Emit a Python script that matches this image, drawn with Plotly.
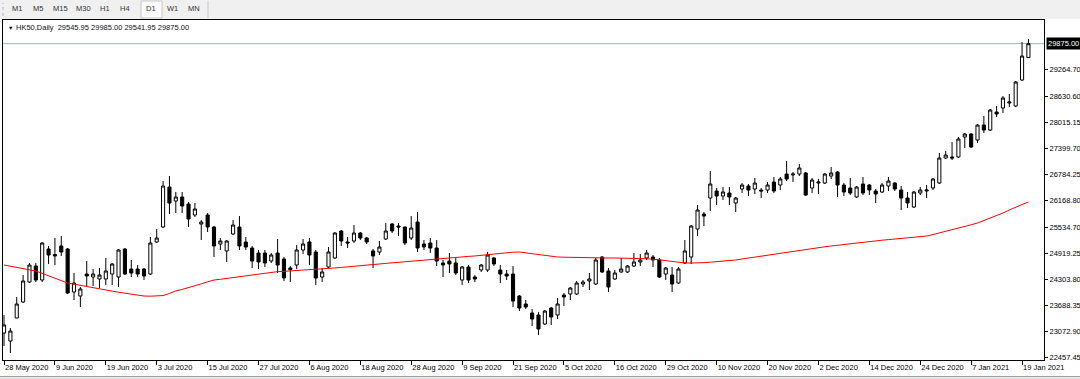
import plotly.graph_objects as go

# ---------------- data ----------------
tick_dates = ["28 May 2020", "9 Jun 2020", "19 Jun 2020", "3 Jul 2020", "15 Jul 2020",
              "27 Jul 2020", "6 Aug 2020", "18 Aug 2020", "28 Aug 2020", "9 Sep 2020",
              "21 Sep 2020", "5 Oct 2020", "16 Oct 2020", "29 Oct 2020", "10 Nov 2020",
              "20 Nov 2020", "2 Dec 2020", "14 Dec 2020", "24 Dec 2020", "7 Jan 2021",
              "19 Jan 2021"]
tick_step = 8

price_ticks = [29264.70, 28630.60, 28015.15, 27399.70, 26784.25, 26168.80,
               25534.70, 24919.25, 24303.80, 23688.35, 23072.90, 22457.45]

opens = [23040, 22851, 23395, 23773, 24245, 24623, 24292, 25025, 24895, 25096,
         25025, 24009, 23914, 24434, 24363, 24316, 24316, 24434, 24363, 25025,
         24552, 24552, 24552, 24434, 25190, 25544, 26489, 26158, 26253, 26088,
         25828, 25615, 25828, 25544, 25143, 24978, 25379, 25544, 25190, 25048,
         24930, 24930, 24741, 24930, 24789, 24576, 24647, 25001, 25190, 24954,
         24363, 24600, 24812, 25450, 25190, 25214, 25402, 25284, 24978, 24954,
         25261, 25615, 25568, 25544, 25284, 25662, 25143, 25166, 25048, 24694,
         24741, 24694, 24292, 24600, 24363, 24529, 24529, 24812, 24529, 24434,
         24434, 23914, 23726, 23513, 23466, 23253, 23631, 23466, 23938, 23962,
         23962, 24198, 24269, 24198, 24836, 24505, 24316, 24482, 24482, 24623,
         24718, 24812, 24836, 24765, 24434, 24410, 24221, 24694, 24836, 25497,
         25851, 26229, 26395, 26276, 26347, 26111, 26442, 26513, 26442, 26418,
         26418, 26607, 26536, 26796, 26773, 26796, 26820, 26465, 26583, 26583,
         26749, 26843, 26536, 26465, 26253, 26560, 26536, 26395, 26371, 26513,
         26583, 26418, 26229, 26017, 26347, 26395, 26465, 26583, 27174, 27198,
         27198, 27670, 27741, 27599, 27953, 27835, 28260, 28355, 28473, 28402,
         29016, 29545.95]
highs = [23466, 23159, 23891, 24410, 24694, 24694, 25190, 25096, 25284, 25331,
         25048, 24458, 24127, 24741, 24552, 24576, 24812, 24694, 25025, 25048,
         24765, 24647, 24576, 25308, 25497, 26630, 26749, 26371, 26371, 26135,
         26111, 25709, 25875, 25568, 25284, 25237, 25709, 25804, 25308, 25096,
         25001, 25001, 24930, 25261, 24836, 24623, 25119, 25261, 25284, 25001,
         24576, 25072, 25426, 25473, 25308, 25591, 25426, 25308, 25025, 25214,
         25638, 25638, 25638, 25556, 25804, 25899, 25237, 25284, 25237, 24765,
         24930, 24812, 24623, 24647, 24410, 24671, 24954, 24836, 24647, 24529,
         24623, 23938, 23820, 23607, 23537, 23584, 23655, 23867, 23985, 24127,
         24269, 24292, 24458, 24812, 24860, 24576, 24529, 24812, 24647, 24930,
         24907, 25001, 24883, 24812, 24600, 24600, 24600, 25237, 25591, 26064,
         25899, 26867, 26465, 26489, 26489, 26253, 26583, 26560, 26702, 26465,
         26607, 26725, 26725, 27103, 26843, 27032, 26843, 26702, 26678, 26820,
         26962, 26867, 26583, 26702, 26513, 26725, 26560, 26442, 26583, 26725,
         26607, 26513, 26371, 26395, 26489, 26536, 26702, 27292, 27339, 27552,
         27670, 27764, 27764, 27977, 28166, 28331, 28402, 28638, 28686, 28993,
         29914, 29985.00]
lows = [22733, 22568, 23390, 23749, 24221, 24245, 24245, 24671, 24647, 24860,
        23962, 23820, 23655, 24151, 24151, 24103, 24174, 24174, 24127, 24410,
        24363, 24363, 24292, 24410, 25166, 25520, 25851, 25875, 25875, 25544,
        25780, 25237, 25426, 24836, 25001, 24718, 25355, 25001, 25001, 24576,
        24552, 24600, 24694, 24458, 24269, 24245, 24552, 24907, 24647, 24174,
        24245, 24576, 24789, 25096, 25048, 25166, 25237, 25143, 24576, 24883,
        25237, 25402, 25331, 25119, 25237, 24954, 25001, 24930, 24623, 24363,
        24458, 24410, 24174, 24221, 24245, 24482, 24482, 24623, 24221, 24292,
        23655, 23560, 23607, 23206, 22993, 23229, 23229, 23371, 23678, 23820,
        23938, 24127, 24056, 24174, 24458, 24009, 24292, 24458, 24458, 24600,
        24623, 24765, 24600, 24340, 24292, 24009, 24198, 24671, 24671, 25331,
        25568, 25922, 26064, 26182, 26064, 25899, 26347, 26276, 26324, 26229,
        26347, 26347, 26418, 26630, 26607, 26749, 26276, 26347, 26324, 26560,
        26678, 26253, 26276, 26300, 26229, 26300, 26300, 26111, 26347, 26395,
        26395, 25946, 25993, 25993, 26300, 26229, 26418, 26560, 27150, 27127,
        27174, 27410, 27410, 27528, 27764, 27812, 28142, 28237, 28378, 28378,
        28993, 29541.95]
closes = [23230, 23087, 23726, 24269, 24647, 24292, 25166, 24883, 24860, 24954,
          23985, 24221, 24080, 24387, 24434, 24410, 24505, 24670, 25001, 24434,
          24458, 24434, 24387, 25166, 25284, 26513, 26111, 26253, 26040, 25733,
          25970, 25662, 25544, 25096, 25214, 25214, 25591, 25096, 25072, 24741,
          24718, 24694, 24883, 24647, 24340, 24540, 25001, 25143, 24883, 24340,
          24482, 24954, 25402, 25214, 25166, 25402, 25284, 25190, 24860, 25072,
          25450, 25450, 25544, 25166, 25520, 25048, 25072, 25048, 24741, 24647,
          24671, 24458, 24600, 24292, 24316, 24647, 24883, 24671, 24434, 24387,
          23796, 23631, 23655, 23371, 23135, 23560, 23418, 23726, 23891, 24103,
          24221, 24245, 24316, 24765, 24482, 24127, 24458, 24552, 24623, 24718,
          24765, 24930, 24765, 24363, 24576, 24198, 24552, 24978, 25568, 25946,
          25804, 26560, 26276, 26371, 26253, 26229, 26536, 26418, 26583, 26395,
          26536, 26395, 26678, 26678, 26796, 26938, 26300, 26654, 26607, 26796,
          26820, 26536, 26371, 26347, 26489, 26347, 26418, 26324, 26536, 26630,
          26442, 26229, 26111, 26371, 26418, 26418, 26678, 27174, 27245, 27174,
          27623, 27741, 27434, 27953, 27835, 28308, 28213, 28591, 28497, 28969,
          29583, 29875.00]

moving_avg = [24647, 24620, 24590, 24560, 24535, 24505, 24450, 24395, 24340, 24280,
              24221, 24195, 24165, 24135, 24105, 24080, 24055, 24030, 24005, 23980,
              23962, 23940, 23914, 23910, 23912, 23926, 23975, 24033, 24070, 24110,
              24151, 24200, 24250, 24292, 24310, 24330, 24350, 24370, 24387, 24410,
              24435, 24460, 24482, 24490, 24497, 24505, 24513, 24521, 24529, 24541,
              24553, 24565, 24577, 24589, 24600, 24614, 24628, 24643, 24657, 24671,
              24685, 24699, 24713, 24727, 24741, 24755, 24769, 24783, 24798, 24812,
              24822, 24831, 24841, 24850, 24860, 24878, 24895, 24913, 24930, 24940,
              24950, 24954, 24935, 24910, 24883, 24867, 24851, 24836, 24831, 24826,
              24822, 24817, 24812, 24812, 24812, 24812, 24812, 24812, 24807, 24803,
              24798, 24794, 24789, 24770, 24751, 24732, 24713, 24694, 24694, 24694,
              24703, 24713, 24722, 24732, 24741, 24765, 24789, 24812, 24836, 24860,
              24884, 24907, 24931, 24954, 24978, 25001, 25020, 25039, 25058, 25077,
              25096, 25115, 25134, 25152, 25171, 25190, 25204, 25218, 25233, 25247,
              25261, 25275, 25289, 25303, 25317, 25331, 25366, 25402, 25437, 25473,
              25514, 25555, 25597, 25638, 25693, 25749, 25804, 25875, 25946, 26017,
              26076, 26135]

symbol = "HK50,Daily"
last_bar = "29545.95 29985.00 29541.95 29875.00"
current_price = 29875.00
timeframes = ["M1", "M5", "M15", "M30", "H1", "H4", "D1", "W1", "MN"]

# ---------------- layout helpers (pixel positions) ----------------
W, H = 1080, 379
PL, PR, PT, PB = 3, 1044, 20, 360   # plot area edges in pixels


def fx(px):
    return (px - PL) / (PR - PL)


def fy(py):
    return (PB - py) / (PB - PT)


FONT = "Liberation Sans, Arial, sans-serif"
idx = list(range(len(opens)))

fig = go.Figure()
fig.add_trace(go.Candlestick(
    x=idx, open=opens, high=highs, low=lows, close=closes,
    increasing=dict(line=dict(color="black", width=1), fillcolor="white"),
    decreasing=dict(line=dict(color="black", width=1), fillcolor="black"),
    whiskerwidth=0, showlegend=False, hoverinfo="skip"))
fig.add_trace(go.Scatter(
    x=idx, y=moving_avg, mode="lines",
    line=dict(color="#ff0000", width=1), showlegend=False, hoverinfo="skip"))

shapes = []
annotations = []

# toolbar
shapes.append(dict(type="rect", xref="paper", yref="paper",
                   x0=fx(0), x1=fx(W), y0=fy(19), y1=fy(0),
                   fillcolor="#f0f0f0", line=dict(width=0), layer="above"))
shapes.append(dict(type="rect", xref="paper", yref="paper",
                   x0=fx(141), x1=fx(162), y0=fy(18), y1=fy(1),
                   fillcolor="#fbfbfb", line=dict(color="#c8c8c8", width=1), layer="above"))
shapes.append(dict(type="line", xref="paper", yref="paper",
                   x0=fx(208), x1=fx(208), y0=fy(18), y1=fy(1),
                   line=dict(color="#c8c8c8", width=1), layer="above"))
shapes.append(dict(type="line", xref="paper", yref="paper",
                   x0=fx(3), x1=fx(3), y0=fy(16), y1=fy(3),
                   line=dict(color="#b0b0b0", width=1, dash="dot"), layer="above"))
tf_x = [17, 38, 60, 83, 105, 125, 151, 172, 194]
for t, px in zip(timeframes, tf_x):
    annotations.append(dict(text=t, xref="paper", yref="paper", x=fx(px), y=fy(8.5),
                            xanchor="center", yanchor="middle", showarrow=False,
                            font=dict(family=FONT, size=7.5, color="#333333")))

# bottom strip
shapes.append(dict(type="rect", xref="paper", yref="paper",
                   x0=fx(0), x1=fx(W), y0=fy(H), y1=fy(376),
                   fillcolor="#e6e6e6", line=dict(width=0), layer="above"))
shapes.append(dict(type="line", xref="paper", yref="paper",
                   x0=fx(0), x1=fx(W), y0=fy(376.5), y1=fy(376.5),
                   line=dict(color="#a0a0a0", width=1), layer="above"))

# current price line
shapes.append(dict(type="line", xref="paper", yref="y",
                   x0=0, x1=1, y0=current_price, y1=current_price,
                   line=dict(color="#a8b0b8", width=1), layer="below"))

# header text
annotations.append(dict(text="\u25bc", xref="paper", yref="paper", x=fx(6), y=fy(27.5),
                        xanchor="left", yanchor="middle", showarrow=False,
                        font=dict(family=FONT, size=5.5, color="#000000")))
annotations.append(dict(text=symbol + "&nbsp;&nbsp;" + last_bar, xref="paper", yref="paper",
                        x=fx(14), y=fy(27.5), xanchor="left", yanchor="middle",
                        showarrow=False,
                        font=dict(family=FONT, size=7.5, color="#101018")))

# current price label on the axis
annotations.append(dict(text="%.2f" % current_price, xref="paper", yref="y",
                        x=fx(1046), y=current_price, xanchor="left", yanchor="middle",
                        showarrow=False, bgcolor="#000000", borderpad=1,
                        font=dict(family=FONT, size=7.5, color="#ffffff")))

fig.update_layout(
    width=W, height=H,
    margin=dict(l=PL, r=W - PR, t=PT, b=H - PB, pad=0, autoexpand=False),
    paper_bgcolor="white", plot_bgcolor="white",
    shapes=shapes, annotations=annotations,
    xaxis=dict(range=[-0.16, 163.45], rangeslider=dict(visible=False),
               automargin=False, tickangle=0,
               tickvals=[i * tick_step for i in range(len(tick_dates))],
               ticktext=tick_dates, ticks="outside", ticklen=4, tickcolor="black",
               ticklabelposition="outside right",
               showgrid=False, zeroline=False, showline=True, mirror=True,
               linecolor="black", linewidth=1,
               tickfont=dict(family=FONT, size=7.5, color="#000000")),
    yaxis=dict(side="right", range=[22403, 30434], automargin=False,
               tickvals=price_ticks, ticktext=["%.2f" % v for v in price_ticks],
               ticks="outside", ticklen=3, tickcolor="black",
               showgrid=False, zeroline=False, showline=True, mirror=True,
               linecolor="black", linewidth=1,
               tickfont=dict(family=FONT, size=7.5, color="#000000")),
)

fig.write_html("out.html",
               config={"displayModeBar": False, "staticPlot": True},
               post_script="document.body.style.margin='0';document.body.style.overflow='hidden';")
